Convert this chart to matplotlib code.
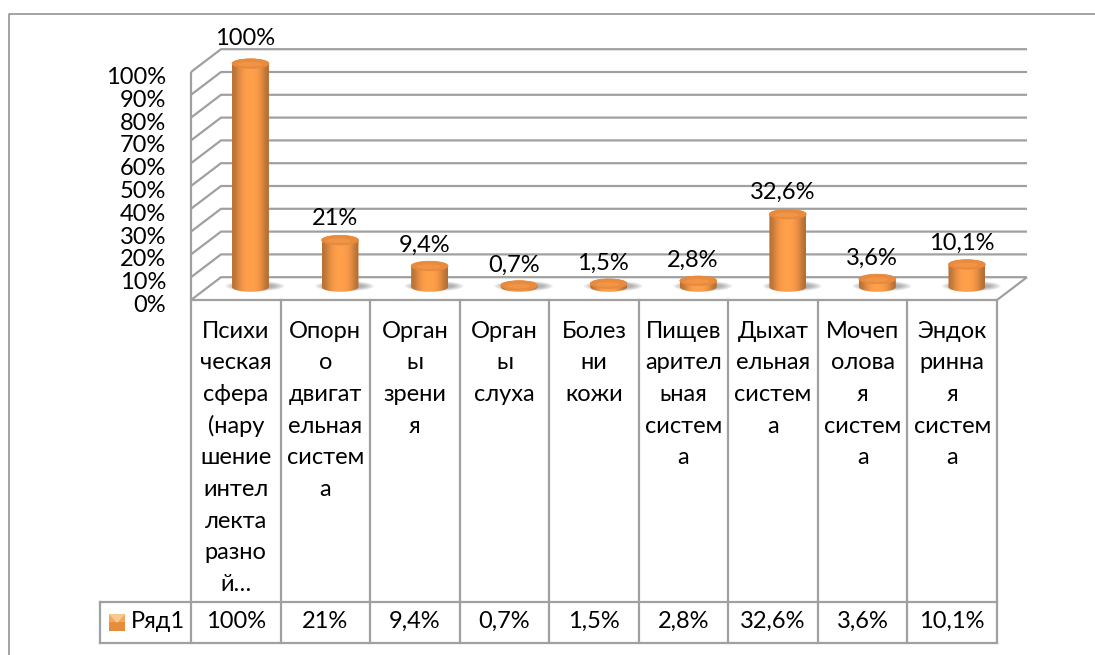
import numpy as np
import matplotlib
matplotlib.use('Agg')
import matplotlib.pyplot as plt
from matplotlib.patches import Ellipse, PathPatch, Polygon
from matplotlib.path import Path

plt.rcParams['font.family'] = ['Lato', 'Noto Sans', 'DejaVu Sans']

categories = [
    ['Психи', 'ческая', 'сфера', '(нару', 'шение', 'интел', 'лекта', 'разно', 'й…'],
    ['Опорн', 'о', 'двигат', 'ельная', 'систем', 'а'],
    ['Орган', 'ы', 'зрени', 'я'],
    ['Орган', 'ы', 'слуха'],
    ['Болез', 'ни', 'кожи'],
    ['Пищев', 'арител', 'ьная', 'систем', 'а'],
    ['Дыхат', 'ельная', 'систем', 'а'],
    ['Мочеп', 'олова', 'я', 'систем', 'а'],
    ['Эндок', 'ринна', 'я', 'систем', 'а'],
]
values = [100, 21, 9.4, 0.7, 1.5, 2.8, 32.6, 3.6, 10.1]
value_labels = ['100%', '21%', '9,4%', '0,7%', '1,5%', '2,8%', '32,6%', '3,6%', '10,1%']
series_name = 'Ряд1'
y_ticks = list(range(0, 101, 10))

W, H = 1095, 655
GRAY = '#a0a0a0'
FS = 17

fig = plt.figure(figsize=(W / 100, H / 100), dpi=100)
fig.patch.set_facecolor('white')

# pixel overlay for frame and table
px = fig.add_axes([0, 0, 1, 1])
px.set_xlim(0, W)
px.set_ylim(H, 0)
px.axis('off')

# plot area, front face of the box: 191..997 px, 300..72 px
ax = fig.add_axes([191 / W, 1 - 300 / H, 806 / W, 228 / H], zorder=2)
ax.set_xlim(-0.5, 8.5)
ax.set_ylim(0, 100)
ax.axis('off')
ax.patch.set_alpha(0)

UNIT = 806 / 9        # px per category
DX = 30 / UNIT        # depth offset in data units
DY = 10.0
n = len(values)


def line(xs, ys, lw=1.6, z=1):
    ax.plot(xs, ys, color=GRAY, lw=lw, clip_on=False, zorder=z, solid_capstyle='butt')


# walls and gridlines
for t in y_ticks:
    line([-0.5, -0.5 + DX, 8.5 + DX], [t, t + DY, t + DY])
    ax.text(-0.5 - 25 / UNIT, t - 2.4, f'{t}%', ha='right', va='center', fontsize=FS,
            color='black', clip_on=False)
line([-0.5, -0.5], [0, 100])
line([-0.5, 8.5], [0, 0])
line([8.5, 8.5 + DX], [0, DY])

# cylinders
BW = 0.206   # half width
EH = 2.1     # half height of end ellipses
BAR_SCALE = 0.98
shade = np.array([0.74, 0.82, 0.92, 0.99, 1.03, 1.05, 1.05, 1.03, 0.99, 0.92, 0.82, 0.72])
base_rgb = np.array([0.97, 0.60, 0.28])
grad = np.clip(base_rgb[None, None, :] * shade[None, :, None], 0, 1)

for i, v in enumerate(values):
    cx = i + DX * 0.49
    cy = 5.7
    # floor shadow
    for k in range(7):
        sh = Ellipse((cx + 0.05, cy + 0.4), 2 * BW * (1.6 - k * 0.09), 2 * EH * (1.1 - k * 0.1),
                     fc='#444444', ec='none', alpha=0.07, zorder=2, clip_on=False)
        ax.add_patch(sh)
    top = cy + v * BAR_SCALE
    # body outline
    th = np.linspace(0, np.pi, 40)
    bx = cx + BW * np.cos(th)
    verts = np.concatenate([
        np.c_[bx, cy - EH * np.sin(th)],
        np.c_[bx[::-1], top + EH * np.sin(th[::-1])],
    ])
    verts = np.vstack([verts, verts[0]])
    body = PathPatch(Path(verts), fc='none', ec='none', zorder=3, clip_on=False)
    ax.add_patch(body)
    im = ax.imshow(grad, extent=[cx - BW, cx + BW, cy - EH, top + EH], aspect='auto',
                   interpolation='bicubic', zorder=3)
    im.set_clip_box(fig.bbox)
    im.set_clip_path(body)
    ax.add_patch(Ellipse((cx, top), 2 * BW, 2 * EH, fc='#e98a3c', ec='#e58a3e', lw=0.5, zorder=4, clip_on=False))
    ax.add_patch(Ellipse((cx - 0.01, top - 0.3), 1.3 * BW, 1.0 * EH, fc='#f59b4e', ec='none', alpha=0.6,
                         zorder=4, clip_on=False))
    ax.text(cx - 5.5 / UNIT, top + 9 + 0.02 * v, value_labels[i], ha='center', va='center',
            fontsize=FS, color='black', zorder=5, clip_on=False)

ax.set_xlim(-0.5, 8.5)
ax.set_ylim(0, 100)

# data table
col_w = 806 / n
for i in range(n + 1):
    x = 191 + i * col_w
    px.plot([x, x], [300, 643], color=GRAY, lw=1.6)
px.plot([100, 997], [601.5, 601.5], color=GRAY, lw=1.6)
px.plot([100, 997], [643, 643], color=GRAY, lw=1.6)
px.plot([100, 100], [601.5, 643], color=GRAY, lw=1.6)

for i, lines in enumerate(categories):
    cx = 191 + (i + 0.5) * col_w
    for j, s in enumerate(lines):
        px.text(cx, 331 + j * 31.7, s, ha='center', va='center', fontsize=FS, color='black')
    px.text(cx, 621, value_labels[i], ha='center', va='center', fontsize=FS, color='black')

# legend key
key = np.array([[0.96, 0.66, 0.36], [0.90, 0.55, 0.24]])
px.imshow(key[:, None, :], extent=[109, 125, 631, 614], aspect='auto', zorder=2)
px.add_patch(Polygon([[109, 614], [125, 614], [117, 623]], fc='#f9c98f', ec='none', zorder=3))
px.text(131, 621, series_name, ha='left', va='center', fontsize=FS, color='black')
px.set_xlim(0, W)
px.set_ylim(H, 0)

# chart frame, only left and top edges are inside the crop
px.plot([9, 9, W], [H, 13.5, 13.5], color='#8a8a8a', lw=1.1)

fig.savefig('out.png', dpi=100)
